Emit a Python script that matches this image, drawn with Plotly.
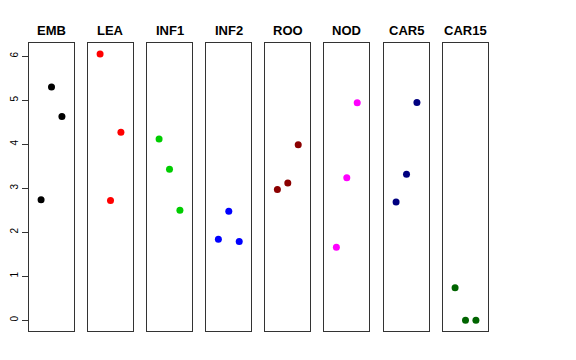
import plotly.graph_objects as go

categories = ["EMB", "LEA", "INF1", "INF2", "ROO", "NOD", "CAR5", "CAR15"]
colors = ["#000000", "#FF0000", "#00CD00", "#0000FF", "#8B0000", "#FF00FF", "#000080", "#006400"]
x_index = [1, 2, 3]
values = {
    "EMB": [2.74, 5.30, 4.63],
    "LEA": [6.05, 2.72, 4.27],
    "INF1": [4.12, 3.43, 2.50],
    "INF2": [1.84, 2.48, 1.79],
    "ROO": [2.97, 3.12, 3.99],
    "NOD": [1.66, 3.24, 4.94],
    "CAR5": [2.69, 3.32, 4.95],
    "CAR15": [0.74, 0.0, 0.0],
}
y_ticks = [0, 1, 2, 3, 4, 5, 6]

W, H = 576, 360
panel_left = [29, 88, 147, 206.3, 265.3, 324.3, 384, 443]
panel_w = 45
y_top, y_bot = 43.3, 331

fig = go.Figure()
for i, cat in enumerate(categories):
    n = "" if i == 0 else str(i + 1)
    fig.add_trace(go.Scatter(
        x=x_index, y=values[cat], mode="markers",
        marker=dict(color=colors[i], size=7, line=dict(width=0)),
        xaxis="x" + n, yaxis="y" + n, showlegend=False, hoverinfo="y"))
    dom_x = [panel_left[i] / W, (panel_left[i] + panel_w) / W]
    dom_y = [1 - y_bot / H, 1 - y_top / H]
    fig.layout["xaxis" + n] = dict(
        domain=dom_x, range=[-0.16, 4.16], showgrid=False, zeroline=False,
        showticklabels=False, ticks="", showline=True, mirror=True,
        linecolor="#333333", linewidth=1, anchor="y" + n)
    fig.layout["yaxis" + n] = dict(
        domain=dom_y, range=[-0.242, 6.292], showgrid=False, zeroline=False,
        showline=True, mirror=True, linecolor="#333333", linewidth=1,
        anchor="x" + n,
        showticklabels=(i == 0), ticks="outside" if i == 0 else "",
        tickvals=y_ticks, ticklen=6, tickcolor="#333333", tickangle=-90,
        tickfont=dict(family="Liberation Sans, Arial", size=10, color="#000000"))
    fig.add_annotation(
        text="<b>" + cat + "</b>", xref="paper", yref="paper",
        x=(panel_left[i] + panel_w / 2) / W, y=1 - 30 / H,
        xanchor="center", yanchor="middle", showarrow=False,
        font=dict(family="Liberation Sans, Arial", size=13, color="#000000"))

fig.update_layout(
    width=W, height=H, margin=dict(l=0, r=0, t=0, b=0),
    paper_bgcolor="white", plot_bgcolor="white")
fig.write_html("out.html", config={"displayModeBar": False},
               post_script="document.body.style.margin='0';")
